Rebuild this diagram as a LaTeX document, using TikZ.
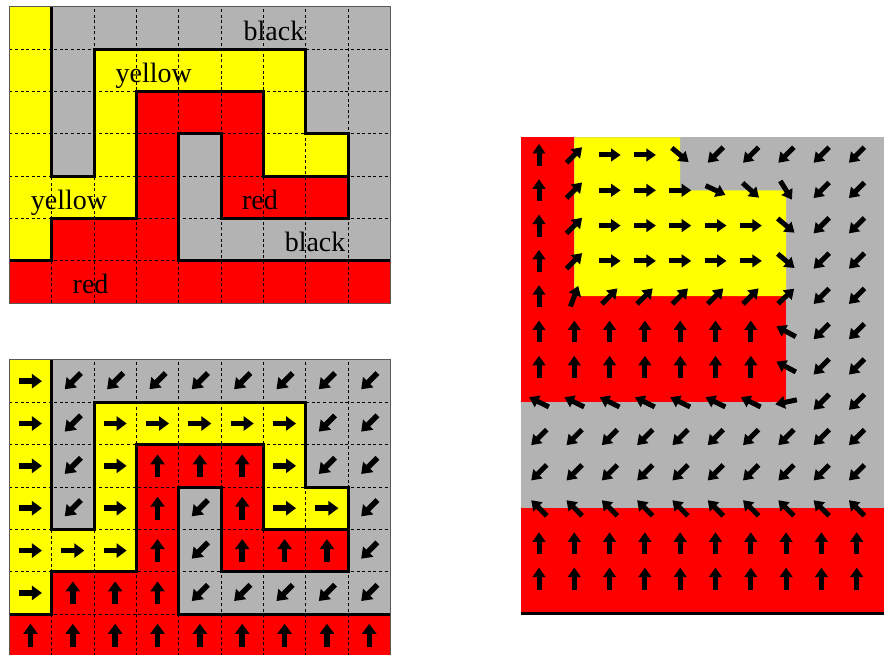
\documentclass[tikz,border=0pt]{standalone}
\usepackage{fontspec}
\setmainfont{Liberation Serif}
\usetikzlibrary{arrows.meta}

\definecolor{mapgray}{RGB}{179,179,179}
\definecolor{mapred}{RGB}{255,0,0}
\definecolor{mapyellow}{RGB}{255,255,0}

% the 9x7 colour map, fills only
\newcommand{\regionmap}{%
  \fill[mapgray] (0,0) rectangle (9,7);
  \fill[mapred] (0,0) -- (9,0) -- (9,1) -- (4,1) -- (4,4) -- (5,4) -- (5,2) -- (8,2)
    -- (8,3) -- (6,3) -- (6,5) -- (3,5) -- (3,2) -- (1,2) -- (1,1) -- (0,1) -- cycle;
  \fill[mapyellow] (0,1) -- (1,1) -- (1,2) -- (3,2) -- (3,5) -- (6,5) -- (6,3) -- (8,3)
    -- (8,4) -- (7,4) -- (7,6) -- (2,6) -- (2,3) -- (1,3) -- (1,7) -- (0,7) -- cycle;
}
% dashed cells, region borders and frame
\newcommand{\regionlines}{%
  \foreach \x in {1,...,8} \draw[gridline] (\x,0) -- (\x,7);
  \foreach \y in {1,...,6} \draw[gridline] (0,\y) -- (9,\y);
  \draw[mapborder] (1,7) -- (1,3) -- (2,3) -- (2,6) -- (7,6) -- (7,4) -- (8,4) -- (8,2)
    -- (5,2) -- (5,4) -- (4,4) -- (4,1) -- (9,1);
  \draw[mapborder] (0,1) -- (1,1) -- (1,2) -- (3,2) -- (3,5) -- (6,5) -- (6,3) -- (8,3);
  \draw[mapframe] (0,0) rectangle (9,7);
}

\begin{document}
\begin{tikzpicture}[x=1pt, y=1pt,
  gridline/.style={black, line width=0.9pt, dash pattern=on 3pt off 2.6pt},
  mapborder/.style={black, line width=3pt},
  mapframe/.style={black!65, line width=1pt},
  maptext/.style={anchor=base, inner sep=0pt, font=\fontsize{28}{30}\selectfont},
  cellarrow/.style={line width=5.5pt, -{Triangle[length=10pt, width=14pt]}},
  fieldarrow/.style={line width=5pt, -{Triangle[length=9.5pt, width=12.5pt]}}]
  \useasboundingbox (0,0) rectangle (884,655);
  \clip (0,0) rectangle (884,655);

  % labelled map
  \begin{scope}[shift={(9.3pt,351.85pt)}, x=42.35pt, y=42.35pt]
    \regionmap
    \node[maptext] (blacktop) at (6.25,6.2) {black};
    \node[maptext] (yellowtop) at (3.41,5.22) {yellow};
    \node[maptext] (yellowleft) at (1.41,2.22) {yellow};
    \node[maptext] (redmid) at (5.92,2.22) {red};
    \node[maptext] (blacklow) at (7.22,1.21) {black};
    \node[maptext] (redlow) at (1.92,0.23) {red};
    \regionlines
  \end{scope}

  % same map with one arrow per cell
  \begin{scope}[shift={(9.3pt,-1.45pt)}, x=42.35pt, y=42.35pt]
    \regionmap
    \regionlines
    \foreach \angles [count=\r from 0] in {
        {0,225,225,225,225,225,225,225,225},
        {0,225,0,0,0,0,0,225,225},
        {0,225,0,90,90,90,0,225,225},
        {0,225,0,90,225,90,0,0,225},
        {0,0,0,90,225,90,90,90,225},
        {0,90,90,90,225,225,225,225,225},
        {90,90,90,90,90,90,90,90,90}} {
      \foreach \a [count=\c from 0] in \angles
        \draw[cellarrow] (\c+0.5,6.5-\r) ++(\a+180:0.272) -- ++(\a:0.543);
    }
  \end{scope}

  % smooth field
  \begin{scope}[shift={(539pt,76.4pt)}, x=35.3pt, y=35.3pt]
    \fill[mapgray] (-0.5,-1) rectangle (10.5,12.5);
    \fill[mapred] (-0.5,-1) rectangle (10.5,2);
    \fill[mapred] (-0.5,5) rectangle (7,8);
    \fill[mapred] (-0.5,8) rectangle (1,12.5);
    \fill[mapyellow] (1,8) -- (7,8) -- (7,11) -- (4,11) -- (4,12.5) -- (1,12.5) -- cycle;
    \draw[black, line width=3pt] (-0.5,-1) -- (10.5,-1);
    \foreach \angles [count=\j from 0] in {
        {90,45,0,0,-40,225,225,225,225,225},
        {90,45,0,0,0,-25,-42,-58,225,225},
        {90,45,0,0,0,0,0,-40,225,225},
        {90,45,0,0,0,0,0,-40,225,225},
        {90,69,45,45,45,45,45,43,225,225},
        {90,90,90,90,90,90,90,152,225,225},
        {90,90,90,90,90,90,90,152,225,225},
        {154,154,154,154,154,154,154,192,225,225},
        {225,225,225,225,225,225,225,225,225,225},
        {225,225,225,225,225,225,225,225,225,225},
        {135,135,135,135,135,135,135,135,135,135},
        {90,90,90,90,90,90,90,90,90,90},
        {90,90,90,90,90,90,90,90,90,90}} {
      \foreach \a [count=\i from 0] in \angles
        \draw[fieldarrow] (\i,12-\j) ++(\a+180:0.311) -- ++(\a:0.623);
    }
  \end{scope}
\end{tikzpicture}
\end{document}
